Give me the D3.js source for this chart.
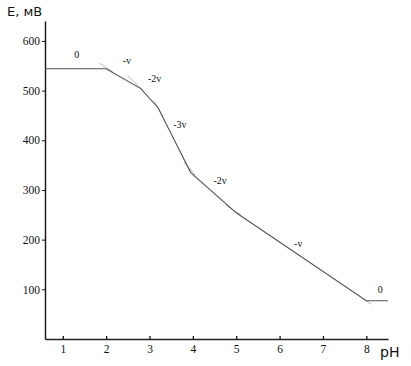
<!DOCTYPE html>
<html>
<head>
<meta charset="utf-8">
<title>E vs pH</title>
<script src="https://d3js.org/d3.v7.min.js"></script>
<style>
  body { margin: 0; background: #fff; }
</style>
</head>
<body>
<script>
// curve: breakpoints
var curvePH = [0.59, 2.0, 2.8, 3.2, 3.95, 5.0, 8.0, 8.5];
var curveE  = [544, 544, 504, 465, 335, 254, 77, 77];

// faint extension strokes of the straight parts
var extensions = [
  [[1.85, 555], [2.15, 538]],
  [[2.5, 530], [2.85, 500]],
  [[3.1, 480], [3.3, 449]],
  [[3.8, 356], [4.05, 330]],
  [[4.75, 270], [5.1, 250]],
  [[7.9, 82], [8.12, 70]]
];

var slopeLabels = ["0", "-v", "-2v", "-3v", "-2v", "-v", "0"];
var labelPH = [1.32, 2.48, 3.12, 3.7, 4.63, 6.43, 8.32];
var labelE  = [565, 554, 518, 425, 312, 185, 93];

var xTicks = [1, 2, 3, 4, 5, 6, 7, 8];
var yTicks = [100, 200, 300, 400, 500, 600];

var width = 411, height = 366;
var svg = d3.select("body").append("svg")
    .attr("width", width)
    .attr("height", height);

var x = d3.scaleLinear().domain([0.59, 8.5]).range([45, 388]);
var y = d3.scaleLinear().domain([0, 640]).range([339, 21]);

// y axis
var yAxis = svg.append("g")
    .attr("transform", "translate(45,0)")
    .call(d3.axisLeft(y).tickValues(yTicks).tickSize(3).tickSizeOuter(0).tickPadding(2));
yAxis.select(".domain").attr("stroke", "#111").attr("stroke-width", 1.4);
yAxis.selectAll(".tick line").attr("stroke", "#111");
yAxis.selectAll("text")
    .style("font-family", "Liberation Serif, serif")
    .style("font-size", "11.5px")
    .attr("fill", "#111");

// x axis
var xAxis = svg.append("g")
    .attr("transform", "translate(0,339)")
    .call(d3.axisBottom(x).tickValues(xTicks).tickSize(-3).tickSizeOuter(0).tickPadding(6));
xAxis.select(".domain").attr("stroke", "#222").attr("stroke-width", 1.6);
xAxis.selectAll(".tick line").attr("stroke", "#111").attr("stroke-width", 1.3);
xAxis.selectAll("text")
    .style("font-family", "Liberation Serif, serif")
    .style("font-size", "11.5px")
    .attr("fill", "#111");

svg.append("text")
    .attr("x", 7).attr("y", 16)
    .style("font-family", "DejaVu Sans, sans-serif")
    .style("font-size", "13px")
    .attr("fill", "#111")
    .text("E, мВ");

svg.append("text")
    .attr("x", 380).attr("y", 357)
    .style("font-family", "DejaVu Sans, sans-serif")
    .style("font-size", "14px")
    .attr("fill", "#111")
    .text("pH");

// extensions
svg.selectAll(".ext")
    .data(extensions)
    .enter().append("path")
    .attr("class", "ext")
    .attr("d", d3.line().x(function(d) { return x(d[0]); }).y(function(d) { return y(d[1]); }))
    .attr("stroke", "#bdb4c4")
    .attr("stroke-width", 1)
    .attr("fill", "none");

// main curve
var curve = curvePH.map(function(p, i) { return {ph: p, e: curveE[i]}; });
svg.append("path")
    .datum(curve)
    .attr("d", d3.line().x(function(d) { return x(d.ph); }).y(function(d) { return y(d.e); }))
    .attr("stroke", "#55505c")
    .attr("stroke-width", 1.1)
    .attr("fill", "none");

// slope labels
svg.selectAll(".lbl")
    .data(slopeLabels)
    .enter().append("text")
    .attr("class", "lbl")
    .attr("x", function(d, i) { return x(labelPH[i]); })
    .attr("y", function(d, i) { return y(labelE[i]); })
    .attr("text-anchor", "middle")
    .style("font-family", "Liberation Serif, serif")
    .style("font-size", "10px")
    .attr("fill", "#111")
    .text(function(d) { return d; });
</script>
</body>
</html>
